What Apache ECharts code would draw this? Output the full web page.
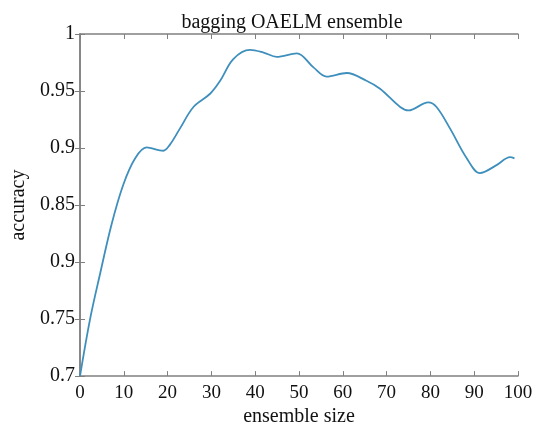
<!DOCTYPE html>
<html>
<head>
<meta charset="utf-8">
<script src="https://cdn.jsdelivr.net/npm/echarts@6/dist/echarts.min.js"></script>
<style>html,body{margin:0;padding:0;background:#fff;}#chart{width:544px;height:432px;}</style>
</head>
<body>
<div id="chart"></div>
<script>
const ensembleSize = [0, 2.3, 4.6, 7.2, 9.9, 12.6, 15.2, 19, 20.5, 22.8, 25.9, 29.7, 32, 35, 38.8, 41.9, 44.9, 49.5, 53.3, 56.3, 60.9, 65.4, 68.5, 73.1, 75, 79.5, 81.4, 84.5, 88.3, 91.3, 95.1, 98.2, 99.2];
const accuracy = [0.70, 0.750, 0.790, 0.833, 0.868, 0.891, 0.9005, 0.8976, 0.9028, 0.917, 0.936, 0.9476, 0.959, 0.978, 0.986, 0.9837, 0.980, 0.983, 0.9707, 0.9626, 0.9658, 0.959, 0.952, 0.936, 0.933, 0.940, 0.936, 0.917, 0.891, 0.878, 0.885, 0.892, 0.891];
const yTickLabels = ['0.7', '0.75', '0.9', '0.85', '0.9', '0.95', '1'];
const xTickLabels = ['0','10','20','30','40','50','60','70','80','90','100'];

const font = 'Liberation Serif';
const axisGray = '#808080';
const chart = echarts.init(document.getElementById('chart'));
const tickStyle = {show: true, inside: true, length: 5, lineStyle: {color: axisGray, width: 1}};
chart.setOption({
  animation: false,
  title: {
    text: 'bagging OAELM ensemble', left: 287, top: 8, textAlign: 'center',
    textStyle: {fontFamily: font, fontSize: 20, fontWeight: 'normal', color: '#111'}
  },
  grid: {left: 80, right: 26, top: 34, bottom: 51},
  xAxis: [{
    type: 'value', min: 0, max: 100, interval: 10, position: 'bottom',
    name: 'ensemble size', nameLocation: 'middle', nameGap: 30,
    nameTextStyle: {fontFamily: font, fontSize: 20, color: '#111'},
    axisLine: {show: true, lineStyle: {color: axisGray, width: 1.5}},
    axisTick: tickStyle, splitLine: {show: false},
    axisLabel: {fontFamily: font, fontSize: 19, color: '#111', margin: 7,
      formatter: v => xTickLabels[Math.round(v / 10)]}
  }, {
    type: 'value', min: 0, max: 100, interval: 10, position: 'top',
    axisLine: {show: true, lineStyle: {color: axisGray, width: 1.5}},
    axisTick: tickStyle, axisLabel: {show: false}, splitLine: {show: false}
  }],
  yAxis: [{
    type: 'value', min: 0.7, max: 1, interval: 0.05, position: 'left',
    name: 'accuracy', nameLocation: 'middle', nameGap: 47, nameRotate: 90,
    nameTextStyle: {fontFamily: font, fontSize: 20, color: '#111'},
    axisLine: {show: true, lineStyle: {color: axisGray, width: 1.5}},
    axisTick: tickStyle, splitLine: {show: false},
    axisLabel: {fontFamily: font, fontSize: 20, color: '#111', margin: 5,
      formatter: v => yTickLabels[Math.round((v - 0.7) / 0.05)]}
  }, {
    type: 'value', min: 0.7, max: 1, interval: 0.05, position: 'right',
    axisLine: {show: true, lineStyle: {color: axisGray, width: 1.5}},
    axisTick: tickStyle, axisLabel: {show: false}, splitLine: {show: false}
  }],
  series: [{
    type: 'line', smooth: 0.35, showSymbol: false,
    data: ensembleSize.map((x, i) => [x, accuracy[i]]),
    lineStyle: {color: '#3f8fbd', width: 1.8}
  }]
});
</script>
</body>
</html>
